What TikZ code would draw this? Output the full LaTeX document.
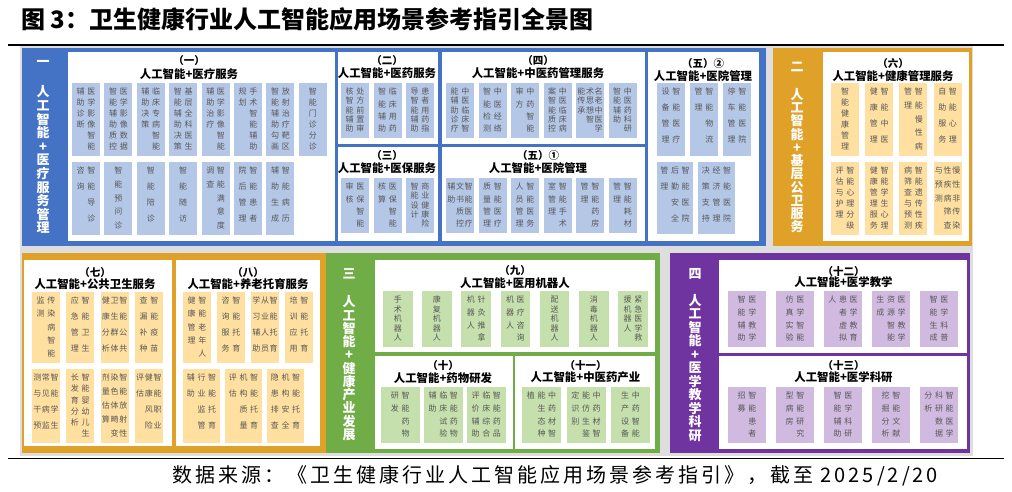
\documentclass[tikz,border=0pt]{standalone}
\usepackage{fontspec}
\setmainfont{Noto Sans CJK SC}
\definecolor{cblue}{RGB}{68,114,196}
\definecolor{lblue}{RGB}{180,199,231}
\definecolor{corange}{RGB}{224,161,40}
\definecolor{lorange}{RGB}{255,224,160}
\definecolor{cgreen}{RGB}{112,173,71}
\definecolor{lgreen}{RGB}{197,224,172}
\definecolor{cpurple}{RGB}{112,52,160}
\definecolor{lpurple}{RGB}{208,186,224}
\definecolor{bggray}{RGB}{222,222,222}
\definecolor{boxgray}{RGB}{88,88,88}
\newcount\vbnmax \newcount\vbnchar \newcount\vbncols
\newdimen\vpitch \newdimen\vbgap
\newcounter{bx}
\def\vbdocount#1{\ifx#1\relax\else\advance\vbnchar by 1 \expandafter\vbdocount\fi}
\def\vbcount#1{\vbnchar=0 \vbdocount#1\relax\ifnum\vbnchar>\vbnmax \vbnmax=\vbnchar\fi}
\def\vbst#1{\ifx#1\relax\else\hbox to 1em{\hss\vrule height .88em depth .12em width 0pt\relax#1\hss}\expandafter\vbst\fi}
\def\vbcol#1{\vtop{\baselineskip=\vpitch\lineskiplimit=-\maxdimen\lineskip=0pt\vbst#1\relax}}
% \vb{x}{y}{w}{h}{fill}{right col}{middle col}{left col}
\newcommand\vb[8]{%
  \stepcounter{bx}%
  \vbnmax=0 \vbncols=1
  \vbcount{#6}%
  \if\relax\detokenize{#7}\relax\else\vbcount{#7}\advance\vbncols by 1 \fi
  \if\relax\detokenize{#8}\relax\else\vbcount{#8}\advance\vbncols by 1 \fi
  \pgfmathsetmacro\vbcs{min(10.7,(#3-2)/\the\vbncols)}%
  \ifnum\vbnmax>1 \pgfmathsetmacro\vbvp{min(16,(#4-18)/(\the\vbnmax-1))}\else\def\vbvp{10}\fi
  \fill[#5] (#1,#2) rectangle ++(#3,#4);
  \node[boxtext] (b\arabic{bx}) at ({#1+#3/2},{#2+4.5}) {\vpitch=\vbvp pt\vbgap=\vbcs pt\advance\vbgap by -8pt
    \hbox{\if\relax\detokenize{#8}\relax\else\vbcol{#8}\hskip\vbgap\fi
          \if\relax\detokenize{#7}\relax\else\vbcol{#7}\hskip\vbgap\fi
          \vbcol{#6}}};%
}
\newcommand\vlabel[7]{%
  \node[labtext] (#1n) at (#2,#3) {#6};
  \node[labtext, anchor=north] (#1t) at (#2,{#4-6.5}) {\vpitch=#5pt\vbcol{#7}};
}
\newcommand\sect[6]{%
  \node[secnum] (#1n) at (#2,#3) {#5};
  \node[sectxt] (#1t) at (#2,#4) {#6};
}
\tikzset{
  boxtext/.style={font=\fontsize{8}{8}\selectfont, text=boxgray, inner sep=0pt, anchor=north},
  labtext/.style={font=\fontsize{13}{13}\selectfont\bfseries, text=white, inner sep=0pt},
  secnum/.style={font=\fontsize{10.5}{10.5}\selectfont\bfseries, inner sep=0pt},
  sectxt/.style={font=\fontsize{11.4}{11.4}\selectfont\bfseries, inner sep=0pt},
  whitebox/.style={fill=white},
}
\begin{document}
\begin{tikzpicture}[x=1pt,y=-1pt]
\useasboundingbox (0,0) rectangle (1012,492);
\fill[white] (0,0) rectangle (1012,492);
% title and rules
\node[anchor=west, font=\fontsize{24}{24}\selectfont\bfseries, inner sep=0pt] (title) at (21,19) {图 3：卫生健康行业人工智能应用场景参考指引全景图};
\coordinate (r1a) at (8,45.5); \coordinate (r1b) at (1004,45.5);
\draw[line width=2pt] (r1a) -- (r1b);
\fill[bggray] (20,46.5) rectangle (973,456);
\coordinate (r2a) at (8,458.5); \coordinate (r2b) at (1004,458.5);
\draw[line width=1.8pt] (r2a) -- (r2b);
\node[anchor=west, font=\fontsize{20}{20}\selectfont\addfontfeatures{LetterSpace=15}, inner sep=0pt] (src) at (172,476) {数据来源：《卫生健康行业人工智能应用场景参考指引》，截至 2025/2/20};

% ===== blue panel =====
\fill[cblue] (22,48) rectangle (766,246);
\fill[whitebox] (68,52) rectangle (335,241);
\fill[whitebox] (337.5,52) rectangle (438,144);
\fill[whitebox] (337.5,147) rectangle (438,241);
\fill[whitebox] (442,52) rectangle (645,144);
\fill[whitebox] (442,147) rectangle (645,241);
\fill[whitebox] (648,52) rectangle (759,241);
\vlabel{L1}{43}{63}{91.7}{13.6}{一}{人工智能+医疗服务管理}
\sect{S1}{189}{61}{74.3}{（一）}{人工智能+医疗服务}
\sect{S2}{387}{61}{73.3}{（二）}{人工智能+医药服务}
\sect{S3}{387}{155.5}{168.3}{（三）}{人工智能+医保服务}
\sect{S4}{538}{61}{73.3}{（四）}{人工智能+中医药管理服务}
\sect{S5}{538}{155.5}{168.3}{（五）①}{人工智能+医院管理}
\sect{S5b}{703}{63.3}{75.7}{（五）②}{人工智能+医院管理}
% (一)
\vb{72}{83}{28}{73}{lblue}{医学影像智能}{辅助诊断}{}
\vb{104.4}{83}{28}{73}{lblue}{医学影像数据}{智能辅助质控}{}
\vb{136.8}{83}{28}{73}{lblue}{临床专病智能}{辅助决策}{}
\vb{169.2}{83}{28}{73}{lblue}{基层全科医生}{智能辅助决策}{}
\vb{201.6}{83}{28}{73}{lblue}{医学影像智能}{辅助治疗}{}
\vb{234}{83}{28}{73}{lblue}{手术智能辅助}{规划}{}
\vb{266.4}{83}{28}{73}{lblue}{放射治疗靶区}{智能辅助勾画}{}
\vb{298.8}{83}{28}{73}{lblue}{智能门诊分诊}{}{}
\vb{72}{162}{28}{73}{lblue}{智能导诊}{咨询}{}
\vb{104.4}{162}{28}{73}{lblue}{智能预问诊}{}{}
\vb{136.8}{162}{28}{73}{lblue}{智能陪诊}{}{}
\vb{169.2}{162}{28}{73}{lblue}{智能随访}{}{}
\vb{201.6}{162}{28}{73}{lblue}{智能满意度}{调查}{}
\vb{234}{162}{28}{73}{lblue}{智能患者}{院后管理}{}
\vb{266.4}{162}{28}{73}{lblue}{智能病历}{辅助生成}{}
% (二)
\vb{341}{83}{28}{55}{lblue}{处方前置审}{核智能辅助}{}
\vb{373.5}{83}{28}{55}{lblue}{临床用药}{智能辅助}{}
\vb{406}{83}{28}{55}{lblue}{患者用药指}{导智能辅助}{}
% (三)
\vb{341}{178}{28}{55}{lblue}{医保智能}{审核}{}
\vb{373.5}{178}{28}{55}{lblue}{医保智能}{核算}{}
\vb{406}{178}{28}{55}{lblue}{商业健康险}{智能设计}{}
% (四)
\vb{446}{83}{28}{55}{lblue}{中医临床智}{能辅助诊疗}{}
\vb{478.5}{83}{28}{55}{lblue}{中医经络}{智能检测}{}
\vb{511}{83}{28}{55}{lblue}{中药智能}{审方}{}
\vb{543.5}{83}{28}{55}{lblue}{中医临床病}{案智能质控}{}
\vb{576}{83}{28}{55}{lblue}{名老中医学}{术思想智}{能传承}
\vb{608.5}{83}{28}{55}{lblue}{中医药科研}{智能辅助}{}
% (五)1
\vb{446}{178}{28}{55}{lblue}{智能医疗}{文书质控}{辅助}
\vb{478.5}{178}{28}{55}{lblue}{智能医疗}{质量管理}{}
\vb{511}{178}{28}{55}{lblue}{智能医务}{人员管理}{}
\vb{543.5}{178}{28}{55}{lblue}{智能手术}{室管理}{}
\vb{576}{178}{28}{55}{lblue}{智能药房}{管理}{}
\vb{608.5}{178}{28}{55}{lblue}{智能耗材}{管理}{}
% (五)2
\vb{657}{83}{28}{73}{lblue}{智能医疗}{设备管理}{}
\vb{690}{83}{28}{73}{lblue}{智能物流}{管理}{}
\vb{723}{83}{28}{73}{lblue}{智能医院}{停车管理}{}
\vb{657}{162}{36}{72}{lblue}{智能医院}{后勤安全}{管理}
\vb{698}{162}{37}{72}{lblue}{智能医院}{经济管理}{决策支持}

% ===== orange top panel =====
\fill[corange] (773,48) rectangle (972,246);
\fill[whitebox] (823,52) rectangle (969,241);
\vlabel{L2}{797}{66.7}{94.3}{13.24}{二}{人工智能+基层公卫服务}
\sect{S6}{893}{63.3}{75.7}{（六）}{人工智能+健康管理服务}
\vb{831}{83}{28}{73}{lorange}{智能健康管理}{}{}
\vb{865.2}{83}{28}{73}{lorange}{智能中医}{健康管理}{}
\vb{899.4}{83}{28}{73}{lorange}{智能慢性病}{管理}{}
\vb{933.6}{83}{28}{73}{lorange}{智能心理}{自助服务}{}
\vb{831}{162}{28}{73}{lorange}{智能心理分级}{评估与护理}{}
\vb{865.2}{162}{28}{73}{lorange}{智能学生心理}{健康管理服务}{}
\vb{899.4}{162}{28}{73}{lorange}{智能遗传性疾}{病筛查与预测}{}
\vb{933.6}{162}{28}{73}{lorange}{慢性非传染}{性疾病筛查}{与预测}

% ===== orange bottom panel =====
\fill[corange] (22,253) rectangle (326,453);
\fill[whitebox] (24,260) rectangle (172,446);
\fill[whitebox] (176,260) rectangle (320,446);
\sect{S7}{95}{272.7}{283.8}{（七）}{人工智能+公共卫生服务}
\sect{S8}{248}{272.7}{283.8}{（八）}{人工智能+养老托育服务}
\vb{32}{292}{28}{71}{lorange}{传染病智能}{监测}{}
\vb{66.3}{292}{28}{71}{lorange}{智能卫生}{应急管理}{}
\vb{100.6}{292}{28}{71}{lorange}{智能公共}{卫生群体}{健康分析}
\vb{134.9}{292}{28}{71}{lorange}{智能疫苗}{查漏补种}{}
\vb{32}{369}{28}{74}{lorange}{智能学生}{常见病监}{测与干预}
\vb{66.3}{369}{28}{74}{lorange}{智能婴幼儿生}{长发育分析}{}
\vb{100.6}{369}{28}{74}{lorange}{智能放射性}{染色体畸变}{剂量估算}
\vb{134.9}{369}{28}{74}{lorange}{智能职业}{健康风险}{评估}
\vb{183}{292}{28}{71}{lorange}{智能老年人}{健康管理}{}
\vb{217}{292}{28}{71}{lorange}{智能托育}{咨询服务}{}
\vb{251}{292}{28}{71}{lorange}{智能托育}{从业人员}{学习辅助}
\vb{285}{292}{28}{71}{lorange}{智能托育}{培训应用}{}
\vb{183}{369}{37}{74}{lorange}{智能托育}{行业监管}{辅助}
\vb{225}{369}{37}{74}{lorange}{智能托育}{机构质量}{评估}
\vb{267}{369}{37}{74}{lorange}{智能托育}{机构安全}{隐患排查}

% ===== green panel =====
\fill[cgreen] (326,253) rectangle (660,453);
\fill[whitebox] (375,260) rectangle (655,352);
\fill[whitebox] (375,356) rectangle (513,449);
\fill[whitebox] (515,356) rectangle (655,449);
\vlabel{L3}{349}{274}{301.7}{13.26}{三}{人工智能+健康产业发展}
\sect{S9}{515}{270.7}{282.7}{（九）}{人工智能+医用机器人}
\sect{S10}{443}{366}{377.7}{（十）}{人工智能+药物研发}
\sect{S11}{585.5}{366}{377.7}{（十一）}{人工智能+中医药产业}
\vb{383}{291}{29.5}{56}{lgreen}{手术机器人}{}{}
\vb{422.2}{291}{29.5}{56}{lgreen}{康复机器人}{}{}
\vb{461.4}{291}{29.5}{56}{lgreen}{针灸推拿}{机器人}{}
\vb{500.6}{291}{29.5}{56}{lgreen}{医疗咨询}{机器人}{}
\vb{539.8}{291}{29.5}{56}{lgreen}{配送机器人}{}{}
\vb{579}{291}{29.5}{56}{lgreen}{消毒机器人}{}{}
\vb{618.2}{291}{29.5}{56}{lgreen}{紧急医学救}{援机器人}{}
\vb{381}{387}{38.5}{56}{lgreen}{智能药物}{研发}{}
\vb{424}{387}{38.5}{56}{lgreen}{智能药物}{临床试验}{辅助}
\vb{467}{387}{38.5}{56}{lgreen}{智能药品}{临床综合}{评价辅助}
\vb{522}{387}{39}{56}{lgreen}{中药材智}{能生态种}{植}
\vb{566.5}{387}{39}{56}{lgreen}{中药材智}{能仿生鉴}{定识别}
\vb{611}{387}{39}{56}{lgreen}{中药智能}{生产设备}{}

% ===== purple panel =====
\fill[cpurple] (670,253) rectangle (970,453);
\fill[whitebox] (719,260) rectangle (967,353);
\fill[whitebox] (719,356) rectangle (967,449);
\vlabel{L4}{695}{274}{300}{13.5}{四}{人工智能+医学教学科研}
\sect{S12}{843.5}{271.7}{282.3}{（十二）}{人工智能+医学教学}
\sect{S13}{843.5}{366}{377}{（十三）}{人工智能+医学科研}
\vb{728}{291}{38}{56}{lpurple}{医学教学}{智能辅助}{}
\vb{776}{291}{38}{56}{lpurple}{医学智能}{仿真实验}{}
\vb{824}{291}{38}{56}{lpurple}{医学教育}{患者虚拟}{人}
\vb{872}{291}{38}{56}{lpurple}{医学教学}{资源智能}{生成}
\vb{920}{291}{38}{56}{lpurple}{医学科普}{智能生成}{}
\vb{728}{387}{38}{56}{lpurple}{智能患者}{招募}{}
\vb{776}{387}{38}{56}{lpurple}{智能研究}{型病房}{}
\vb{824}{387}{38}{56}{lpurple}{医学科研}{智能辅助}{}
\vb{872}{387}{38}{56}{lpurple}{智能文献}{挖掘分析}{}
\vb{920}{387}{38}{56}{lpurple}{智能医学}{科研数据}{分析}
\end{tikzpicture}
\end{document}
